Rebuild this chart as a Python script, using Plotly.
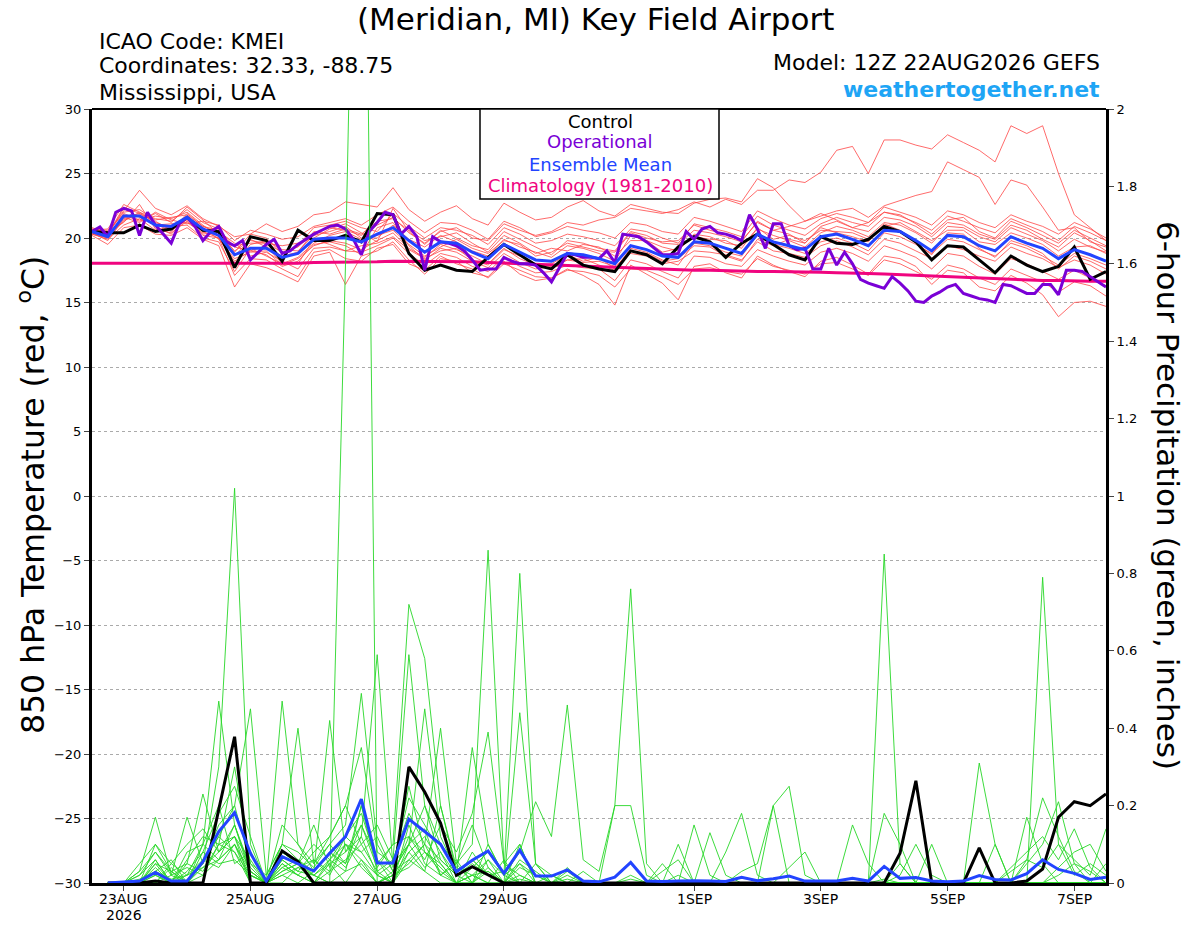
import pandas as pd
import plotly.graph_objects as go

# ---------------- data ----------------
run_start = "2026-08-22 12:00"
times6 = pd.date_range(run_start, periods=65, freq="6h")
times3 = pd.date_range(run_start, periods=129, freq="3h")

tick_dates = ["2026-08-23", "2026-08-25", "2026-08-27", "2026-08-29",
              "2026-09-01", "2026-09-03", "2026-09-05", "2026-09-07"]
tick_labels = ["23AUG<br>2026", "25AUG", "27AUG", "29AUG", "1SEP", "3SEP", "5SEP", "7SEP"]

temp_ticks = [30, 25, 20, 15, 10, 5, 0, -5, -10, -15, -20, -25, -30]
precip_ticks = [0, 0.2, 0.4, 0.6, 0.8, 1, 1.2, 1.4, 1.6, 1.8, 2]
precip_tick_labels = ["0", "0.2", "0.4", "0.6", "0.8", "1", "1.2", "1.4", "1.6", "1.8", "2"]

control_temp = [20.5, 20.4, 20.4, 21.0, 20.5, 20.7, 21.6, 20.6, 20.5, 17.7, 20.1, 19.8, 18.2,
                20.6, 19.8, 19.8, 20.2, 19.7, 21.9, 21.8, 18.8, 17.5, 17.9, 17.5, 17.4, 18.5,
                19.5, 18.7, 17.9, 17.6, 18.7, 17.9, 17.6, 17.4, 19.0, 18.7, 18.0, 19.3, 20.1,
                19.7, 18.5, 19.6, 20.3, 19.5, 18.7, 18.3, 20.1, 19.6, 19.5, 19.9, 20.9, 20.5,
                19.7, 18.3, 19.4, 19.3, 18.3, 17.3, 18.6, 17.9, 17.4, 17.8, 19.3, 16.8, 17.4]

mean_temp = [20.5, 20.1, 21.7, 21.7, 21.0, 20.9, 21.6, 20.7, 20.2, 18.7, 19.2, 19.2, 18.5,
             18.8, 19.9, 20.0, 20.0, 19.7, 20.3, 20.8, 19.8, 18.9, 19.7, 19.6, 18.9, 18.4,
             19.5, 18.9, 18.3, 18.2, 18.8, 18.7, 18.4, 18.0, 19.4, 19.1, 18.6, 18.5, 19.7,
             19.6, 19.2, 18.8, 20.3, 19.7, 19.4, 19.1, 20.1, 20.3, 19.9, 19.4, 20.6, 20.5,
             19.8, 19.0, 20.2, 20.1, 19.4, 19.0, 20.1, 19.6, 19.2, 18.4, 19.1, 18.7, 18.2]

clim_temp = [18.05, 18.05, 18.05, 18.0, 18.0, 18.0, 18.0, 18.0, 18.0, 18.0, 18.0, 18.0, 18.05,
             18.05, 18.1, 18.1, 18.1, 18.15, 18.15, 18.2, 18.2, 18.2, 18.2, 18.2, 18.15, 18.1,
             18.05, 18.0, 17.95, 17.9, 17.85, 17.8, 17.75, 17.7, 17.65, 17.6, 17.6, 17.55, 17.5,
             17.5, 17.45, 17.45, 17.4, 17.4, 17.4, 17.35, 17.35, 17.3, 17.3, 17.25, 17.2, 17.15,
             17.1, 17.05, 17.0, 16.95, 16.9, 16.8, 16.75, 16.7, 16.7, 16.7, 16.65, 16.65, 16.65]

oper_temp = [20.5, 20.85, 20.1, 22.0, 22.3, 22.1, 20.2, 22.0, 21.0, 20.3, 19.6, 21.1, 21.6,
             20.9, 19.8, 20.5, 20.9, 19.7, 19.4, 19.8, 18.3, 18.9, 19.5, 19.9, 18.8, 19.0,
             19.5, 19.9, 20.3, 20.6, 20.9, 21.0, 20.7, 19.9, 18.7, 20.5, 21.2, 22.0, 21.8,
             20.3, 20.9, 20.1, 17.5, 20.1, 19.7, 19.6, 19.4,
             19.0, 18.3, 17.5, 17.6, 17.6, 18.5, 18.2, 18.0, 18.0, 17.9, 17.3, 16.6, 17.7,
             18.8, 18.7, 18.5, 18.5, 18.4, 19.0, 18.1, 20.3, 20.2, 20.1, 19.7, 19.2, 18.7,
             18.7, 18.8, 20.5, 19.9, 20.7, 20.9, 20.4, 20.3, 20.1, 19.8, 21.8, 20.7, 19.2,
             21.1, 21.1,
             19.4, 19.1, 19.2, 17.6, 17.6, 19.2, 17.9, 18.9, 18.0, 16.8, 16.5, 16.3, 16.1,
             17.0, 16.5, 15.9, 15.1, 15.0, 15.5, 15.8, 16.2, 16.4, 15.7, 15.5, 15.3, 15.2,
             15.0, 16.4, 16.3, 16.0, 15.7, 15.7, 16.4, 16.4, 15.6, 17.5, 17.5, 17.4, 17.0,
             16.6, 16.2]

# ensemble members, 850 hPa temperature (deg C)
t_m01 = [20.6, 20.3, 22.4, 21.9, 21.3, 20.6, 21.9, 20.9, 20.4, 19.0, 19.8, 19.6, 18.9,
         19.3, 20.4, 20.8, 20.6, 20.2, 21.0, 21.6, 20.4, 19.6, 20.5, 20.8, 20.0, 19.8,
         21.1, 20.6, 20.2, 20.5, 21.2, 21.0, 21.4, 21.6, 22.3, 22.1, 21.9, 22.2, 22.8,
         22.4, 23.0, 22.6, 23.7, 23.7, 24.5, 24.3, 25.1, 26.8, 27.1, 25.0, 27.6, 27.6,
         27.2, 26.9, 28.0, 27.4, 26.8, 25.9, 28.7, 28.1, 28.7, 25.0, 21.8, 20.8, 19.8]
t_m02 = [20.3, 20.0, 21.3, 22.0, 21.2, 20.8, 21.4, 20.5, 20.0, 18.2, 19.0, 19.4, 18.0,
         18.5, 19.6, 20.2, 20.5, 19.9, 20.2, 20.6, 19.5, 18.6, 19.3, 19.9, 19.2, 18.8,
         19.8, 19.5, 18.6, 18.9, 19.6, 19.3, 19.0, 18.9, 20.4, 20.0, 19.7, 19.8, 21.0,
         20.6, 20.3, 19.8, 21.2, 20.6, 20.9, 21.3, 21.7, 22.1, 22.3, 21.6, 22.5, 22.9,
         23.3, 23.6, 25.9, 25.3, 24.7, 22.6, 24.5, 24.1, 22.4, 20.6, 20.8, 19.7, 19.3]
t_m03 = [20.8, 20.4, 22.1, 23.7, 22.3, 21.8, 22.5, 21.5, 20.9, 20.1, 20.3, 21.1, 20.5,
         20.9, 21.8, 22.0, 22.8, 22.6, 22.4, 23.9, 22.2, 21.3, 22.0, 22.5, 21.5, 21.0,
         22.7, 22.0, 21.4, 21.6, 22.4, 22.9, 22.1, 21.7, 22.6, 22.3, 22.0, 21.9, 22.7,
         23.0, 23.1, 22.8, 24.6, 23.9, 22.5, 21.3, 21.9, 21.4, 20.8, 21.2, 22.0, 21.8,
         21.1, 20.3, 21.4, 21.6, 20.5, 20.0, 21.3, 20.8, 20.2, 19.6, 20.6, 20.0, 19.4]
t_m04 = [20.2, 19.5, 20.8, 21.0, 20.3, 20.2, 20.8, 19.9, 19.4, 16.2, 18.0, 17.7, 17.2,
         16.6, 18.6, 18.9, 16.4, 18.6, 19.0, 19.7, 18.3, 17.2, 18.4, 18.2, 17.3, 17.0,
         18.2, 17.2, 16.7, 16.9, 17.6, 17.1, 16.4, 14.8, 17.9, 17.2, 16.5, 15.2, 17.8,
         18.0, 17.3, 16.9, 18.6, 17.9, 17.4, 17.0, 18.2, 18.5, 17.9, 17.2, 18.6, 18.4,
         17.8, 16.4, 17.5, 17.3, 16.2, 15.9, 17.1, 16.5, 15.6, 13.9, 15.0, 15.1, 14.7]
t_m05 = [20.6, 20.7, 22.6, 22.0, 21.5, 21.3, 22.2, 21.2, 20.7, 19.3, 19.0, 18.7, 17.8,
         18.2, 19.5, 19.7, 19.4, 18.7, 20.8, 21.2, 19.4, 18.3, 19.2, 18.9, 18.2, 17.7,
         18.8, 18.1, 17.6, 17.8, 18.3, 18.4, 17.9, 17.5, 19.0, 18.8, 18.2, 18.4, 19.4,
         19.3, 18.6, 18.2, 19.9, 19.4, 19.9, 19.6, 20.8, 20.4, 20.1, 19.7, 21.1, 20.6,
         19.6, 18.7, 20.4, 20.3, 19.2, 18.5, 19.8, 19.4, 18.8, 17.6, 18.6, 18.2, 17.6]
t_m06 = [20.4, 20.0, 21.9, 21.4, 21.7, 21.5, 22.0, 21.0, 20.1, 18.0, 19.5, 19.8, 19.1,
         19.0, 20.2, 20.5, 20.9, 20.0, 20.0, 21.0, 19.9, 19.3, 20.2, 19.7, 19.0, 18.6,
         19.9, 19.3, 18.9, 18.5, 19.4, 19.2, 18.8, 18.2, 20.2, 19.8, 19.3, 19.0, 20.3,
         20.1, 19.6, 19.4, 20.7, 20.2, 19.8, 19.3, 20.4, 20.9, 20.6, 20.1, 21.2, 21.0,
         20.4, 19.6, 20.9, 20.8, 20.1, 19.7, 20.8, 20.3, 19.8, 19.0, 19.9, 19.3, 18.9]
t_m07 = [20.7, 20.5, 21.2, 22.6, 20.7, 20.4, 21.3, 20.3, 20.5, 19.6, 18.6, 18.9, 18.2,
         17.6, 19.2, 19.3, 19.0, 19.4, 19.6, 20.1, 19.1, 18.4, 19.0, 19.2, 18.3, 17.9,
         19.1, 18.6, 18.0, 17.6, 18.3, 18.1, 18.2, 17.8, 18.8, 18.6, 18.0, 18.2, 19.0,
         18.9, 18.7, 18.3, 19.7, 19.0, 18.8, 18.5, 19.4, 19.8, 19.3, 18.7, 19.9, 19.6,
         19.0, 18.4, 19.4, 19.1, 18.6, 18.2, 19.3, 18.8, 18.4, 17.7, 18.3, 17.9, 17.2]
t_m08 = [20.4, 19.8, 21.5, 21.9, 21.0, 21.1, 21.2, 20.4, 20.8, 18.6, 19.9, 19.3, 18.6,
         18.9, 20.5, 20.3, 20.7, 20.3, 21.3, 21.5, 20.6, 19.8, 20.1, 20.4, 19.6, 18.9,
         20.2, 19.6, 18.8, 19.2, 19.0, 19.5, 19.3, 18.6, 19.8, 19.8, 18.9, 19.2, 20.1,
         19.9, 19.8, 19.2, 20.8, 19.9, 20.2, 19.8, 20.6, 20.5, 20.4, 19.9, 20.9, 21.2,
         20.5, 19.8, 20.6, 20.6, 19.7, 19.5, 20.4, 20.0, 19.5, 18.6, 19.3, 19.4, 18.8]
t_m09 = [20.5, 20.2, 22.3, 21.6, 21.1, 20.5, 21.6, 20.8, 19.9, 18.4, 18.9, 19.0, 17.9,
         18.4, 19.4, 19.8, 19.6, 19.1, 19.8, 20.4, 19.2, 18.5, 19.5, 19.1, 18.6, 18.0,
         19.2, 18.4, 17.9, 18.0, 18.7, 18.2, 18.5, 17.6, 19.2, 18.9, 18.3, 17.9, 19.6,
         19.4, 18.9, 18.6, 20.2, 19.5, 19.2, 18.8, 19.7, 20.0, 19.6, 19.0, 20.4, 20.1,
         19.5, 18.8, 19.9, 19.7, 19.1, 18.6, 19.6, 19.2, 18.6, 17.9, 18.8, 18.4, 17.9]
t_m10 = [20.6, 20.6, 21.8, 21.3, 21.9, 21.2, 22.4, 21.4, 20.3, 19.4, 19.6, 19.6, 19.4,
         19.6, 20.0, 20.7, 21.1, 20.4, 19.7, 22.3, 20.5, 19.5, 20.6, 20.0, 19.4, 19.1,
         20.5, 19.9, 19.3, 18.7, 19.8, 19.6, 19.2, 19.0, 20.5, 20.2, 19.6, 19.5, 20.6,
         20.4, 20.1, 19.7, 21.3, 20.6, 20.3, 19.6, 20.9, 21.3, 20.8, 20.5, 21.6, 21.4,
         20.9, 20.1, 21.2, 21.0, 20.3, 19.9, 21.0, 20.6, 19.9, 19.3, 20.4, 19.8, 19.0]
t_m11 = [20.3, 19.9, 21.0, 21.5, 20.6, 20.9, 21.0, 20.0, 19.7, 17.4, 19.2, 18.6, 18.0,
         18.0, 19.9, 19.5, 19.0, 18.9, 19.4, 20.0, 18.8, 17.9, 18.8, 18.5, 17.8, 17.4,
         18.5, 17.8, 17.3, 17.4, 17.9, 17.7, 17.6, 16.7, 18.3, 18.0, 17.4, 16.9, 18.6,
         18.5, 18.0, 17.8, 19.1, 18.6, 18.2, 17.9, 18.9, 19.2, 18.8, 18.2, 19.4, 19.0,
         18.5, 17.6, 18.8, 18.6, 17.8, 17.2, 18.4, 18.0, 17.4, 16.8, 17.5, 16.9, 16.3]
t_m12 = [20.5, 20.4, 22.0, 22.2, 21.4, 21.6, 21.8, 20.9, 20.6, 18.9, 20.3, 20.0, 18.8,
         19.4, 20.8, 21.0, 21.3, 20.8, 20.5, 21.9, 20.9, 20.0, 20.8, 20.6, 20.2, 19.5,
         20.8, 20.3, 19.6, 19.8, 20.3, 20.1, 19.8, 19.4, 20.7, 20.5, 20.0, 19.6, 21.1,
         20.8, 20.5, 20.1, 21.7, 21.0, 20.6, 20.2, 21.1, 21.6, 21.2, 20.9, 22.0, 21.7,
         21.2, 20.6, 21.7, 21.3, 20.8, 20.4, 21.5, 21.0, 20.5, 19.8, 20.9, 20.4, 19.8]
t_m13 = [20.4, 20.1, 21.4, 21.8, 20.9, 20.3, 21.5, 20.2, 20.0, 17.1, 18.4, 18.3, 17.6,
         17.0, 18.9, 19.1, 18.4, 18.2, 19.2, 19.5, 18.0, 17.5, 18.6, 18.0, 17.6, 16.9,
         18.0, 17.5, 17.0, 16.9, 17.5, 17.4, 17.1, 16.2, 17.6, 17.5, 17.0, 16.4, 17.6,
         17.7, 17.4, 17.2, 18.4, 17.8, 17.5, 17.2, 18.0, 18.1, 17.6, 17.1, 18.3, 18.0,
         17.4, 16.8, 17.9, 17.6, 16.9, 16.4, 17.6, 17.1, 16.6, 15.8, 16.6, 16.3, 15.5]
t_m14 = [20.6, 20.2, 21.6, 21.2, 22.0, 21.4, 21.1, 21.3, 21.0, 19.8, 20.6, 20.3, 19.9,
         20.1, 20.9, 21.2, 21.5, 21.0, 21.8, 22.4, 21.3, 20.4, 21.2, 21.1, 20.6, 19.9,
         21.3, 20.8, 20.1, 20.4, 20.9, 20.6, 20.4, 20.0, 21.2, 21.0, 20.5, 20.3, 21.6,
         21.3, 20.9, 20.5, 22.1, 21.5, 21.0, 20.7, 21.5, 21.9, 21.6, 21.2, 22.4, 22.0,
         21.6, 21.0, 22.1, 21.8, 21.2, 20.8, 21.8, 21.3, 20.9, 20.3, 21.2, 20.7, 20.0]

# 6-hour precipitation (inches); None = no accumulation at the analysis time
control_precip = [None, 0, 0, 0, 0.005, 0, 0, 0, 0.19, 0.378, 0, 0, 0.083,
                  0.055, 0, 0, 0, 0, 0, 0, 0.30, 0.235, 0.155, 0.02, 0.042, 0.02,
                  0, 0, 0, 0, 0, 0, 0, 0, 0, 0, 0, 0, 0,
                  0, 0, 0, 0, 0, 0, 0, 0, 0, 0, 0, 0, 0.077,
                  0.264, 0, 0, 0, 0.091, 0, 0, 0.005, 0.036, 0.17, 0.21, 0.20, 0.23]

mean_precip = [None, 0, 0.002, 0.005, 0.027, 0.005, 0.005, 0.055, 0.133, 0.182, 0.077, 0.005, 0.068,
               0.05, 0.031, 0.077, 0.12, 0.217, 0.052, 0.052, 0.165, 0.133, 0.10, 0.029, 0.059, 0.083,
               0.025, 0.085, 0.018, 0.018, 0.034, 0.005, 0.003, 0.015, 0.053, 0.005, 0.004, 0.005, 0.006,
               0.005, 0.004, 0.015, 0.006, 0.011, 0.018, 0.005, 0.005, 0.005, 0.012, 0.005, 0.043, 0.012,
               0.014, 0.005, 0.003, 0.005, 0.019, 0.009, 0.008, 0.024, 0.06, 0.035, 0.025, 0.009, 0.015]

p_m01 = [None, 0, 0, 0.01, 0.03, 0.01, 0.02, 0.04, 0.06, 0.10, 0.02, 0.0, 0.03,
         0.05, 0.02, 0.0, 1.6, 3.6, 0.0, 0.02, 0.08, 0.12, 0.05, 0.0, 0.02, 0.03,
         0.0, 0.01, 0.0, 0.0, 0.02, 0.0, 0.0, 0.0, 0.01, 0.0, 0.0, 0.0, 0.0,
         0.0, 0.0, 0.0, 0.0, 0.0, 0.0, 0.0, 0.0, 0.0, 0.0, 0.0, 0.01, 0.0,
         0.0, 0.0, 0.0, 0.0, 0.0, 0.0, 0.0, 0.0, 0.0, 0.02, 0.05, 0.03, 0.0]
p_m02 = [None, 0, 0, 0, 0.02, 0.0, 0.0, 0.05, 0.30, 1.02, 0.10, 0.0, 0.05,
         0.02, 0.0, 0.03, 0.06, 0.10, 0.03, 0.0, 0.15, 0.05, 0.02, 0.0, 0.04, 0.08,
         0.02, 0.05, 0.0, 0.0, 0.01, 0.0, 0.0, 0.0, 0.02, 0.0, 0.0, 0.0, 0.0,
         0.0, 0.0, 0.0, 0.0, 0.0, 0.0, 0.0, 0.0, 0.0, 0.0, 0.0, 0.0, 0.0,
         0.0, 0.0, 0.0, 0.0, 0.0, 0.0, 0.0, 0.0, 0.0, 0.0, 0.0, 0.0, 0.0]
p_m03 = [None, 0, 0, 0, 0.05, 0.0, 0.0, 0.10, 0.47, 0.15, 0.03, 0.0, 0.08,
         0.05, 0.0, 0.06, 0.12, 0.18, 0.05, 0.10, 0.72, 0.58, 0.20, 0.03, 0.06, 0.02,
         0.0, 0.44, 0.05, 0.0, 0.0, 0.0, 0.0, 0.0, 0.0, 0.0, 0.0, 0.0, 0.0,
         0.0, 0.0, 0.0, 0.0, 0.0, 0.0, 0.0, 0.0, 0.0, 0.0, 0.0, 0.0, 0.0,
         0.0, 0.0, 0.0, 0.0, 0.0, 0.0, 0.0, 0.0, 0.0, 0.0, 0.0, 0.0, 0.0]
p_m04 = [None, 0, 0, 0.03, 0.08, 0.02, 0.0, 0.06, 0.12, 0.20, 0.05, 0.02, 0.10,
         0.08, 0.04, 0.10, 0.05, 0.20, 0.03, 0.06, 0.18, 0.10, 0.40, 0.05, 0.10, 0.86,
         0.05, 0.02, 0.0, 0.0, 0.03, 0.0, 0.0, 0.0, 0.0, 0.0, 0.0, 0.0, 0.0,
         0.0, 0.0, 0.0, 0.0, 0.0, 0.0, 0.0, 0.0, 0.0, 0.0, 0.0, 0.0, 0.0,
         0.0, 0.0, 0.0, 0.0, 0.0, 0.0, 0.0, 0.0, 0.0, 0.0, 0.0, 0.0, 0.0]
p_m05 = [None, 0, 0, 0, 0.04, 0.0, 0.03, 0.08, 0.18, 0.25, 0.12, 0.0, 0.15,
         0.10, 0.05, 0.12, 0.20, 0.35, 0.08, 0.05, 0.22, 0.15, 0.08, 0.02, 0.35, 0.10,
         0.02, 0.80, 0.05, 0.02, 0.0, 0.0, 0.0, 0.0, 0.0, 0.0, 0.0, 0.0, 0.0,
         0.0, 0.0, 0.0, 0.0, 0.0, 0.0, 0.0, 0.0, 0.0, 0.0, 0.0, 0.0, 0.0,
         0.0, 0.0, 0.0, 0.0, 0.0, 0.0, 0.0, 0.0, 0.0, 0.0, 0.0, 0.0, 0.0]
p_m06 = [None, 0, 0, 0, 0.10, 0.03, 0.0, 0.04, 0.08, 0.12, 0.0, 0.0, 0.04,
         0.02, 0.06, 0.03, 0.10, 0.08, 0.02, 0.0, 0.10, 0.20, 0.06, 0.02, 0.0, 0.04,
         0.0, 0.05, 0.02, 0.0, 0.04, 0.0, 0.0, 0.20, 0.76, 0.05, 0.0, 0.0, 0.0,
         0.0, 0.0, 0.0, 0.0, 0.0, 0.0, 0.0, 0.0, 0.0, 0.0, 0.0, 0.0, 0.0,
         0.0, 0.0, 0.0, 0.0, 0.0, 0.0, 0.0, 0.0, 0.0, 0.0, 0.0, 0.0, 0.0]
p_m07 = [None, 0, 0, 0, 0.0, 0.05, 0.02, 0.10, 0.06, 0.15, 0.04, 0.0, 0.02,
         0.0, 0.03, 0.08, 0.04, 0.12, 0.02, 0.0, 0.06, 0.03, 0.0, 0.0, 0.02, 0.0,
         0.0, 0.0, 0.0, 0.0, 0.0, 0.0, 0.0, 0.0, 0.0, 0.0, 0.0, 0.0, 0.0,
         0.0, 0.0, 0.0, 0.0, 0.0, 0.0, 0.0, 0.0, 0.0, 0.0, 0.0, 0.85, 0.05,
         0.0, 0.0, 0.0, 0.0, 0.0, 0.0, 0.0, 0.0, 0.0, 0.0, 0.0, 0.0, 0.0]
p_m08 = [None, 0, 0, 0.02, 0.06, 0.0, 0.05, 0.03, 0.10, 0.08, 0.0, 0.0, 0.06,
         0.03, 0.02, 0.05, 0.0, 0.06, 0.0, 0.02, 0.04, 0.08, 0.03, 0.0, 0.0, 0.0,
         0.0, 0.0, 0.0, 0.0, 0.0, 0.0, 0.0, 0.0, 0.0, 0.0, 0.0, 0.0, 0.0,
         0.0, 0.0, 0.0, 0.0, 0.0, 0.0, 0.0, 0.0, 0.0, 0.0, 0.0, 0.0, 0.0,
         0.0, 0.0, 0.0, 0.0, 0.0, 0.0, 0.0, 0.0, 0.79, 0.10, 0.02, 0.05, 0.02]
p_m09 = [None, 0, 0, 0, 0.03, 0.06, 0.0, 0.05, 0.15, 0.20, 0.45, 0.02, 0.10,
         0.40, 0.05, 0.10, 0.15, 0.49, 0.10, 0.03, 0.06, 0.10, 0.02, 0.05, 0.0, 0.03,
         0.0, 0.02, 0.0, 0.0, 0.0, 0.0, 0.0, 0.0, 0.0, 0.0, 0.0, 0.0, 0.0,
         0.0, 0.0, 0.0, 0.0, 0.0, 0.0, 0.0, 0.0, 0.0, 0.0, 0.0, 0.0, 0.0,
         0.0, 0.0, 0.0, 0.0, 0.0, 0.0, 0.0, 0.0, 0.0, 0.0, 0.0, 0.0, 0.0]
p_m10 = [None, 0, 0, 0, 0.02, 0.0, 0.06, 0.12, 0.10, 0.30, 0.05, 0.0, 0.47,
         0.10, 0.03, 0.42, 0.08, 0.12, 0.59, 0.04, 0.25, 0.08, 0.05, 0.0, 0.08, 0.02,
         0.0, 0.10, 0.0, 0.0, 0.0, 0.0, 0.0, 0.0, 0.0, 0.0, 0.0, 0.0, 0.0,
         0.0, 0.0, 0.0, 0.0, 0.0, 0.0, 0.0, 0.0, 0.0, 0.0, 0.0, 0.0, 0.0,
         0.0, 0.0, 0.0, 0.0, 0.0, 0.0, 0.0, 0.0, 0.0, 0.0, 0.0, 0.0, 0.0]
p_m11 = [None, 0, 0, 0, 0.0, 0.02, 0.04, 0.02, 0.06, 0.10, 0.03, 0.0, 0.05,
         0.02, 0.0, 0.05, 0.08, 0.15, 0.06, 0.02, 0.12, 0.08, 0.04, 0.0, 0.02, 0.06,
         0.02, 0.08, 0.21, 0.12, 0.46, 0.06, 0.03, 0.20, 0.20, 0.02, 0.0, 0.0, 0.0,
         0.0, 0.0, 0.0, 0.0, 0.0, 0.0, 0.0, 0.0, 0.0, 0.0, 0.0, 0.0, 0.0,
         0.0, 0.0, 0.0, 0.0, 0.0, 0.0, 0.0, 0.0, 0.0, 0.0, 0.0, 0.0, 0.0]
p_m12 = [None, 0, 0, 0, 0.05, 0.03, 0.0, 0.02, 0.10, 0.12, 0.06, 0.0, 0.02,
         0.04, 0.02, 0.06, 0.10, 0.06, 0.02, 0.05, 0.10, 0.45, 0.12, 0.03, 0.06, 0.02,
         0.0, 0.04, 0.02, 0.0, 0.0, 0.0, 0.0, 0.0, 0.0, 0.0, 0.0, 0.0, 0.0,
         0.0, 0.0, 0.0, 0.0, 0.20, 0.25, 0.02, 0.0, 0.0, 0.0, 0.0, 0.0, 0.0,
         0.0, 0.0, 0.0, 0.0, 0.31, 0.10, 0.0, 0.0, 0.0, 0.0, 0.0, 0.0, 0.0]
p_m13 = [None, 0, 0, 0.02, 0.08, 0.03, 0.05, 0.23, 0.08, 0.15, 0.02, 0.0, 0.06,
         0.03, 0.08, 0.12, 0.20, 0.10, 0.15, 0.06, 0.59, 0.20, 0.10, 0.05, 0.15, 0.04,
         0.0, 0.06, 0.03, 0.0, 0.0, 0.0, 0.0, 0.0, 0.0, 0.0, 0.0, 0.02, 0.0,
         0.0, 0.0, 0.03, 0.05, 0.20, 0.0, 0.0, 0.0, 0.0, 0.0, 0.0, 0.0, 0.0,
         0.0, 0.0, 0.0, 0.0, 0.0, 0.0, 0.0, 0.05, 0.10, 0.21, 0.05, 0.0, 0.0]
p_m14 = [None, 0, 0, 0.03, 0.17, 0.02, 0.17, 0.05, 0.12, 0.08, 0.02, 0.0, 0.10,
         0.06, 0.03, 0.08, 0.05, 0.15, 0.04, 0.10, 0.12, 0.06, 0.15, 0.08, 0.18, 0.39,
         0.05, 0.10, 0.0, 0.0, 0.0, 0.0, 0.0, 0.0, 0.0, 0.0, 0.0, 0.0, 0.0,
         0.0, 0.0, 0.0, 0.0, 0.0, 0.0, 0.0, 0.0, 0.0, 0.0, 0.0, 0.0, 0.0,
         0.0, 0.0, 0.0, 0.0, 0.0, 0.0, 0.0, 0.17, 0.05, 0.0, 0.0, 0.0, 0.0]
p_m15 = [None, 0, 0, 0, 0.06, 0.0, 0.08, 0.10, 0.20, 0.05, 0.08, 0.0, 0.03,
         0.05, 0.10, 0.06, 0.03, 0.20, 0.06, 0.0, 0.08, 0.03, 0.20, 0.04, 0.02, 0.0,
         0.06, 0.0, 0.0, 0.0, 0.0, 0.0, 0.0, 0.0, 0.0, 0.0, 0.03, 0.06, 0.0,
         0.0, 0.08, 0.18, 0.02, 0.0, 0.0, 0.0, 0.0, 0.0, 0.0, 0.0, 0.18, 0.10,
         0.0, 0.0, 0.0, 0.0, 0.0, 0.0, 0.04, 0.08, 0.12, 0.06, 0.14, 0.04, 0.0]
p_m16 = [None, 0, 0, 0, 0.03, 0.0, 0.02, 0.06, 0.04, 0.10, 0.0, 0.0, 0.04,
         0.06, 0.02, 0.0, 0.03, 0.05, 0.0, 0.02, 0.05, 0.10, 0.06, 0.02, 0.05, 0.02,
         0.03, 0.0, 0.05, 0.0, 0.0, 0.0, 0.0, 0.0, 0.0, 0.0, 0.0, 0.0, 0.15,
         0.02, 0.0, 0.0, 0.0, 0.0, 0.0, 0.0, 0.0, 0.0, 0.15, 0.05, 0.0, 0.02,
         0.10, 0.02, 0.0, 0.0, 0.0, 0.0, 0.03, 0.06, 0.04, 0.10, 0.06, 0.02, 0.14]
p_m17 = [None, 0, 0, 0, 0.0, 0.04, 0.0, 0.08, 0.05, 0.06, 0.02, 0.0, 0.0,
         0.04, 0.06, 0.02, 0.10, 0.04, 0.0, 0.03, 0.10, 0.04, 0.08, 0.0, 0.0, 0.06,
         0.0, 0.0, 0.0, 0.02, 0.0, 0.0, 0.0, 0.0, 0.0, 0.0, 0.0, 0.10, 0.0,
         0.13, 0.02, 0.0, 0.0, 0.0, 0.04, 0.08, 0.0, 0.0, 0.0, 0.0, 0.0, 0.0,
         0.0, 0.0, 0.0, 0.0, 0.0, 0.10, 0.0, 0.06, 0.22, 0.12, 0.03, 0.0, 0.05]
p_m18 = [None, 0, 0, 0.05, 0.10, 0.05, 0.10, 0.14, 0.08, 0.12, 0.03, 0.0, 0.08,
         0.05, 0.15, 0.04, 0.12, 0.08, 0.12, 0.03, 0.10, 0.14, 0.02, 0.06, 0.0, 0.10,
         0.02, 0.0, 0.0, 0.0, 0.0, 0.03, 0.0, 0.0, 0.0, 0.0, 0.05, 0.0, 0.0,
         0.0, 0.0, 0.0, 0.0, 0.0, 0.0, 0.0, 0.0, 0.0, 0.0, 0.0, 0.0, 0.05,
         0.0, 0.10, 0.0, 0.0, 0.0, 0.0, 0.0, 0.0, 0.0, 0.04, 0.08, 0.10, 0.03]

temp_members = [t_m01, t_m02, t_m03, t_m04, t_m05, t_m06, t_m07, t_m08, t_m09, t_m10,
                t_m11, t_m12, t_m13, t_m14]
precip_members = [p_m01, p_m02, p_m03, p_m04, p_m05, p_m06, p_m07, p_m08, p_m09, p_m10,
                  p_m11, p_m12, p_m13, p_m14, p_m15, p_m16, p_m17, p_m18]

# ---------------- figure ----------------
W, H = 1200, 927
PL, PR, PT, PB = 92, 1106, 109, 883          # plot box in pixels
L, T, R, B = PL, PT, W - PR, H - PB
PW, PH = PR - PL, PB - PT

def px(x):
    return (x - PL) / PW

def py(y):
    return (PB - y) / PH

FONT = "DejaVu Sans, Liberation Sans, Arial, sans-serif"
RED = "rgba(255,70,70,0.8)"
GREEN = "rgba(40,215,40,0.9)"
BLACK = "#000000"
PURPLE = "#7a00d6"
BLUE = "#2244ff"
PINK = "#f0047f"

fig = go.Figure()

for m in precip_members:
    fig.add_trace(go.Scatter(x=times6, y=m[:65], yaxis="y2", mode="lines",
                             line=dict(color=GREEN, width=1), hoverinfo="skip"))

for m in temp_members:
    fig.add_trace(go.Scatter(x=times6, y=m, mode="lines",
                             line=dict(color=RED, width=1), hoverinfo="skip"))

fig.add_trace(go.Scatter(x=times6, y=clim_temp, mode="lines", line=dict(color=PINK, width=3)))
fig.add_trace(go.Scatter(x=times6, y=control_temp, mode="lines", line=dict(color=BLACK, width=3)))
fig.add_trace(go.Scatter(x=times3, y=oper_temp, mode="lines", line=dict(color=PURPLE, width=3)))
fig.add_trace(go.Scatter(x=times6, y=mean_temp, mode="lines", line=dict(color=BLUE, width=3)))
fig.add_trace(go.Scatter(x=times6, y=control_precip, yaxis="y2", mode="lines",
                         line=dict(color=BLACK, width=3)))
fig.add_trace(go.Scatter(x=times6, y=mean_precip, yaxis="y2", mode="lines",
                         line=dict(color=BLUE, width=3)))

TICKFONT = dict(family=FONT, size=13, color="black")

fig.update_layout(
    width=W, height=H,
    margin=dict(l=L, r=R, t=T, b=B, pad=0, autoexpand=False),
    paper_bgcolor="white", plot_bgcolor="white",
    showlegend=False,
    font=dict(family=FONT, color="black", size=12),
    xaxis=dict(
        type="date",
        range=[times6[0], times6[-1]],
        tickvals=pd.to_datetime(tick_dates),
        showticklabels=False,
        ticks="outside", ticklen=5, tickcolor="#444", tickwidth=1,
        showgrid=False, zeroline=False,
        showline=True, linecolor="black", linewidth=3,
    ),
    yaxis=dict(
        range=[-30, 30], tickvals=temp_ticks,
        ticks="outside", ticklen=5, tickcolor="#444",
        showgrid=True, gridcolor="#aaaaaa", griddash="dot", gridwidth=1,
        zeroline=False,
        showline=True, linecolor="black", linewidth=3,
        tickfont=TICKFONT,
    ),
    yaxis2=dict(
        range=[0, 2], overlaying="y", side="right",
        tickvals=precip_ticks, ticktext=precip_tick_labels,
        ticks="outside", ticklen=5, tickcolor="#444",
        showgrid=False, zeroline=False,
        showline=True, linecolor="black", linewidth=3,
        tickfont=TICKFONT,
    ),
)

# date labels under the x axis (placed at the tick dates)
for d, lab in zip(tick_dates, tick_labels):
    for k, part in enumerate(lab.split("<br>")):
        fig.add_annotation(x=pd.Timestamp(d), xref="x", y=py(899 + 16 * k), yref="paper",
                           text=part, showarrow=False, xanchor="center", yanchor="middle",
                           font=dict(family=FONT, size=14, color="black"))

# top frame line
fig.add_shape(type="line", xref="paper", yref="paper", x0=0, x1=1, y0=1, y1=1,
              line=dict(color="black", width=2))

# legend box
fig.add_shape(type="rect", xref="paper", yref="paper",
              x0=px(480), x1=px(719), y0=py(199), y1=py(109),
              line=dict(color="black", width=1.5), fillcolor="white", layer="above")
legend_items = [("Control", BLACK, 121), ("Operational", PURPLE, 142),
                ("Ensemble Mean", BLUE, 164), ("Climatology (1981-2010)", PINK, 185)]
for txt, col, yy in legend_items:
    fig.add_annotation(x=px(600), y=py(yy), xref="paper", yref="paper", text=txt,
                       showarrow=False, xanchor="center", yanchor="middle",
                       font=dict(family=FONT, size=18, color=col))

# titles
fig.add_annotation(x=px(595), y=py(19), xref="paper", yref="paper",
                   text="(Meridian, MI) Key Field Airport", showarrow=False,
                   xanchor="center", yanchor="middle",
                   font=dict(family=FONT, size=31, color="black"))
for txt, yy in [("ICAO Code: KMEI", 41), ("Coordinates: 32.33, -88.75", 66),
                ("Mississippi, USA", 92)]:
    fig.add_annotation(x=px(97), y=py(yy), xref="paper", yref="paper", text=txt,
                       showarrow=False, xanchor="left", yanchor="middle",
                       font=dict(family=FONT, size=22, color="black"))
fig.add_annotation(x=px(1102), y=py(63), xref="paper", yref="paper",
                   text="Model: 12Z 22AUG2026 GEFS", showarrow=False,
                   xanchor="right", yanchor="middle",
                   font=dict(family=FONT, size=22, color="black"))
fig.add_annotation(x=px(1102), y=py(89), xref="paper", yref="paper",
                   text="<b>weathertogether.net</b>", showarrow=False,
                   xanchor="right", yanchor="middle",
                   font=dict(family=FONT, size=22, color="#1ea5f5"))

# axis titles
fig.add_annotation(x=px(31), y=py(495), xref="paper", yref="paper",
                   text="850 hPa Temperature (red, <sup>o</sup>C)", showarrow=False,
                   textangle=-90, xanchor="center", yanchor="middle",
                   font=dict(family=FONT, size=31.5, color="black"))
fig.add_annotation(x=px(1168), y=py(495), xref="paper", yref="paper",
                   text="6-hour Precipitation (green, inches)", showarrow=False,
                   textangle=90, xanchor="center", yanchor="middle",
                   font=dict(family=FONT, size=31, color="black"))

# remove the default 8px page margin so the figure fills the 1200x927 window exactly
fig.write_html("out.html", config={"displayModeBar": False},
               post_script="document.body.style.margin='0px';")
